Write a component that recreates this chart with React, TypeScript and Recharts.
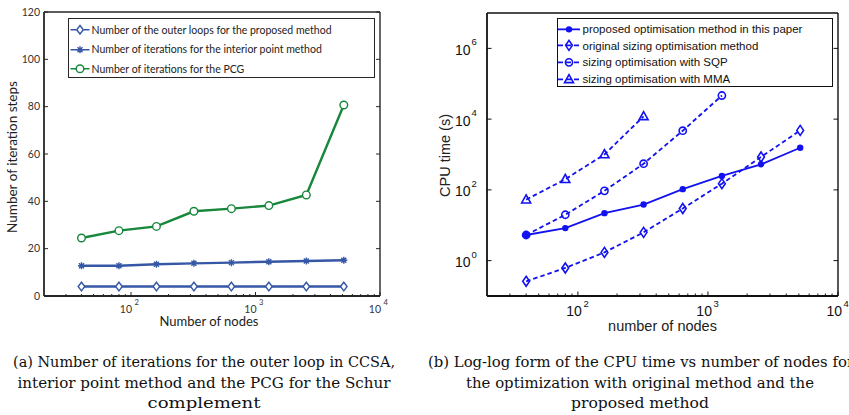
import React from 'react';
import { LineChart, Line, XAxis, YAxis, Legend } from 'recharts';

// node counts used by both panels
const nodes = [40, 80, 160, 320, 640, 1280, 2560, 5120];

// panel (a): iteration counts
const outerLoops = [4, 4, 4, 4, 4, 4, 4, 4];
const interiorPoint = [12.8, 12.8, 13.4, 13.8, 14.1, 14.5, 14.8, 15.1];
const pcgIters = [24.5, 27.6, 29.4, 35.8, 36.9, 38.2, 42.7, 80.7];

// panel (b): CPU time in seconds (SQP and MMA stop early)
const cpuProposed = [5.3, 8.3, 22, 38.5, 105, 248, 528, 1550];
const cpuOriginal = [0.26, 0.62, 1.71, 6.3, 29.8, 150, 850, 4800];
const cpuSqp = [5.3, 19.8, 94, 550, 4700, 46500];
const cpuMma = [53, 200, 1000, 12000];

// axis ticks
const xMajor = [100, 1000, 10000];
const xMinor = [30, 40, 50, 60, 70, 80, 90, 200, 300, 400, 500, 600, 700, 800, 900,
  2000, 3000, 4000, 5000, 6000, 7000, 8000, 9000];
const iterTicks = [0, 20, 40, 60, 80, 100, 120];
const cpuTicks = [1, 100, 10000, 1000000];

const iterData = nodes.map((n, i) => ({
  n, outer: outerLoops[i], interior: interiorPoint[i], pcg: pcgIters[i],
}));
const cpuData = nodes.map((n, i) => ({
  n, proposed: cpuProposed[i], original: cpuOriginal[i], sqp: cpuSqp[i], mma: cpuMma[i],
}));

const FONT_A = 'Lato, "Open Sans", sans-serif';
const FONT_B = '"Liberation Sans", Arial, sans-serif';
const FONT_CAP = '"DejaVu Serif", serif';
const BLUE_A = '#3557a6';
const GREEN_A = '#17873b';
const BLUE_B = '#1212f0';
const AXIS_A = '#262626';
const AXIS_B = '#111';

type MarkerFn = (cx: number, cy: number) => React.ReactNode;

const diamondA: MarkerFn = (cx, cy) => (
  <path d={`M${cx} ${cy - 4.3}L${cx + 3.3} ${cy}L${cx} ${cy + 4.3}L${cx - 3.3} ${cy}Z`}
    fill="#fff" stroke={BLUE_A} strokeWidth={1.4} />
);
const starA: MarkerFn = (cx, cy) => (
  <path d={`M${cx - 3.5} ${cy}H${cx + 3.5}M${cx} ${cy - 3.5}V${cy + 3.5}M${cx - 2.5} ${cy - 2.5}L${cx + 2.5} ${cy + 2.5}M${cx - 2.5} ${cy + 2.5}L${cx + 2.5} ${cy - 2.5}`}
    fill="none" stroke={BLUE_A} strokeWidth={1.4} />
);
const circleA: MarkerFn = (cx, cy) => (
  <circle cx={cx} cy={cy} r={3.8} fill="#fff" stroke={GREEN_A} strokeWidth={1.4} />
);

const dotB: MarkerFn = (cx, cy) => <circle cx={cx} cy={cy} r={3.2} fill={BLUE_B} />;
const diamondB: MarkerFn = (cx, cy) => (
  <path d={`M${cx} ${cy - 5}L${cx + 3.4} ${cy}L${cx} ${cy + 5}L${cx - 3.4} ${cy}Z`}
    fill="none" stroke={BLUE_B} strokeWidth={1.6} />
);
const circleB: MarkerFn = (cx, cy) => (
  <circle cx={cx} cy={cy} r={3.6} fill="none" stroke={BLUE_B} strokeWidth={1.6} />
);
const triangleB: MarkerFn = (cx, cy) => (
  <path d={`M${cx} ${cy - 4.8}L${cx + 4.5} ${cy + 3.3}L${cx - 4.5} ${cy + 3.3}Z`}
    fill="none" stroke={BLUE_B} strokeWidth={1.6} />
);

// wraps a marker so it can be used as a Line dot
const asDot = (m: MarkerFn) => (p: any) => (
  <g key={`m-${p.index}`}>{Number.isFinite(p.cx) && Number.isFinite(p.cy) ? m(p.cx, p.cy) : null}</g>
);

const legendA = [
  { label: 'Number of the outer loops for the proposed method', color: BLUE_A, marker: diamondA },
  { label: 'Number of iterations for the interior point method', color: BLUE_A, marker: starA },
  { label: 'Number of iterations for the PCG', color: GREEN_A, marker: circleA },
];
const legendB = [
  { label: 'proposed optimisation method in this paper', dashed: false, marker: dotB },
  { label: 'original sizing optimisation method', dashed: true, marker: diamondB },
  { label: 'sizing optimisation with SQP', dashed: true, marker: circleB },
  { label: 'sizing optimisation with MMA', dashed: true, marker: triangleB },
];

function LegendBoxA() {
  return (
    <div style={{ boxSizing: 'border-box', width: 307, height: 60, border: `1.6px solid ${AXIS_A}`, background: '#fff', paddingTop: 1 }}>
      {legendA.map((it) => (
        <div key={it.label} style={{ display: 'flex', alignItems: 'center', height: 19.5 }}>
          <svg width={22.5} height={19.5} style={{ flex: 'none' }}>
            <line x1={1.5} x2={20.5} y1={9.75} y2={9.75} stroke={it.color} strokeWidth={1.5} />
            {it.marker(11, 9.75)}
          </svg>
          <span style={{ fontFamily: FONT_A, fontSize: 10.5, color: '#222', whiteSpace: 'nowrap' }}>{it.label}</span>
        </div>
      ))}
    </div>
  );
}

function LegendBoxB() {
  return (
    <div style={{ boxSizing: 'border-box', width: 276, height: 69, border: `1.6px solid ${AXIS_B}`, background: '#fff', paddingTop: 1.5 }}>
      {legendB.map((it) => (
        <div key={it.label} style={{ display: 'flex', alignItems: 'center', height: 16.7 }}>
          <svg width={24.5} height={16.7} style={{ flex: 'none' }}>
            <line x1={0} x2={22} y1={8.35} y2={8.35} stroke={BLUE_B} strokeWidth={1.8}
              strokeDasharray={it.dashed ? '5 3' : undefined} />
            {it.marker(11, 8.35)}
          </svg>
          <span style={{ fontFamily: FONT_B, fontSize: 11.5, color: '#111', whiteSpace: 'nowrap' }}>{it.label}</span>
        </div>
      ))}
    </div>
  );
}

const expOf = (v: number) => Math.round(Math.log10(v));
const isMajor = (v: number) => xMajor.includes(v);

// ---- panel (a) ticks ----
function BottomTickA(p: any) {
  const v = p.payload.value;
  const big = isMajor(v);
  return (
    <g>
      <line x1={p.x} x2={p.x} y1={p.y} y2={p.y - (big ? 4 : 2)} stroke={AXIS_A} strokeWidth={1} />
      {big && <text x={p.x + 1} y={p.y + 16.5} textAnchor="end" fontFamily={FONT_A} fontSize={10.5} fill="#333">10</text>}
      {big && <text x={p.x + 3.5} y={p.y + 9} fontFamily={FONT_A} fontSize={7.5} fill="#333">{expOf(v)}</text>}
    </g>
  );
}
function TopTickA(p: any) {
  const big = isMajor(p.payload.value);
  return <line x1={p.x} x2={p.x} y1={p.y} y2={p.y + (big ? 4 : 2)} stroke={AXIS_A} strokeWidth={1} />;
}
function LeftTickA(p: any) {
  return (
    <g>
      <line x1={p.x} x2={p.x + 4} y1={p.y} y2={p.y} stroke={AXIS_A} strokeWidth={1} />
      <text x={p.x - 4} y={p.y + 3.8} textAnchor="end" fontFamily={FONT_A} fontSize={10.5} fill="#333">{p.payload.value}</text>
    </g>
  );
}
function RightTickA(p: any) {
  return <line x1={p.x} x2={p.x - 4} y1={p.y} y2={p.y} stroke={AXIS_A} strokeWidth={1} />;
}

// ---- panel (b) ticks ----
function BottomTickB(p: any) {
  const v = p.payload.value;
  const big = isMajor(v);
  return (
    <g>
      <line x1={p.x} x2={p.x} y1={p.y} y2={p.y - (big ? 4.5 : 2.5)} stroke={AXIS_B} strokeWidth={1} />
      {big && <text x={p.x + 4} y={p.y + 20} textAnchor="end" fontFamily={FONT_B} fontSize={14} fill="#111">10</text>}
      {big && <text x={p.x + 5.5} y={p.y + 10.5} fontFamily={FONT_B} fontSize={9.5} fill="#111">{expOf(v)}</text>}
    </g>
  );
}
function TopTickB(p: any) {
  const big = isMajor(p.payload.value);
  return <line x1={p.x} x2={p.x} y1={p.y} y2={p.y + (big ? 4.5 : 2.5)} stroke={AXIS_B} strokeWidth={1} />;
}
function LeftTickB(p: any) {
  return (
    <g>
      <line x1={p.x} x2={p.x + 4.5} y1={p.y} y2={p.y} stroke={AXIS_B} strokeWidth={1} />
      <text x={p.x - 16.5} y={p.y + 6.5} textAnchor="end" fontFamily={FONT_B} fontSize={14} fill="#111">10</text>
      <text x={p.x - 15.5} y={p.y - 3} fontFamily={FONT_B} fontSize={9.5} fill="#111">{expOf(p.payload.value)}</text>
    </g>
  );
}
function RightTickB(p: any) {
  return <line x1={p.x} x2={p.x - 4.5} y1={p.y} y2={p.y} stroke={AXIS_B} strokeWidth={1} />;
}

// axis titles
const xTitle = (text: string, font: string, size: number, dy: number, dx = 0) => (p: any) => {
  const vb = p.viewBox;
  return (
    <text x={vb.x + vb.width / 2 + dx} y={vb.y + dy} textAnchor="middle" fontFamily={font} fontSize={size} fill="#222">{text}</text>
  );
};
const yTitle = (text: string, font: string, size: number, dx: number, dy = 0) => (p: any) => {
  const vb = p.viewBox;
  const cx = vb.x + vb.width - dx;
  const cy = vb.y + vb.height / 2 + dy;
  return (
    <text x={cx} y={cy} transform={`rotate(-90 ${cx} ${cy})`} textAnchor="middle" dominantBaseline="central"
      fontFamily={font} fontSize={size} fill="#222">{text}</text>
  );
};

const allX = [...xMinor, ...xMajor];

// axes are 1px thick so they still render; margins absorb that pixel
function IterationsChart() {
  return (
    <LineChart width={400} height={340} data={iterData} margin={{ top: 11, right: 19, bottom: 43, left: 43 }}>
      <XAxis xAxisId="b" dataKey="n" type="number" scale="log" domain={[20, 10000]} allowDataOverflow
        ticks={allX} interval={0} height={1} tickSize={0} tickMargin={0} tickLine={false}
        tick={BottomTickA} axisLine={{ stroke: AXIS_A, strokeWidth: 1.8 }}
        label={xTitle('Number of nodes', FONT_A, 13, 30, -3)} />
      <XAxis xAxisId="t" orientation="top" type="number" scale="log" domain={[20, 10000]} allowDataOverflow
        ticks={allX} interval={0} height={1} tickSize={0} tickMargin={0} tickLine={false}
        tick={TopTickA} axisLine={{ stroke: AXIS_A, strokeWidth: 1.4 }} />
      <YAxis yAxisId="l" type="number" domain={[0, 120]} allowDataOverflow ticks={iterTicks} interval={0}
        width={1} tickSize={0} tickMargin={0} tickLine={false} tick={LeftTickA}
        axisLine={{ stroke: AXIS_A, strokeWidth: 1.8 }}
        label={yTitle('Number of iteration steps', FONT_A, 13.5, 32, 3)} />
      <YAxis yAxisId="r" orientation="right" type="number" domain={[0, 120]} allowDataOverflow ticks={iterTicks}
        interval={0} width={1} tickSize={0} tickMargin={0} tickLine={false} tick={RightTickA}
        axisLine={{ stroke: AXIS_A, strokeWidth: 1.4 }} />
      <Line xAxisId="b" yAxisId="l" dataKey="outer" stroke={BLUE_A} strokeWidth={2.4}
        dot={asDot(diamondA)} activeDot={false} isAnimationActive={false} />
      <Line xAxisId="b" yAxisId="l" dataKey="interior" stroke={BLUE_A} strokeWidth={2.4}
        dot={asDot(starA)} activeDot={false} isAnimationActive={false} />
      <Line xAxisId="b" yAxisId="l" dataKey="pcg" stroke={GREEN_A} strokeWidth={2.4}
        dot={asDot(circleA)} activeDot={false} isAnimationActive={false} />
      <Legend layout="vertical" align="center" verticalAlign="middle" content={() => <LegendBoxA />}
        wrapperStyle={{ left: 68, top: 18, width: 307, height: 60 }} />
    </LineChart>
  );
}

function CpuTimeChart() {
  return (
    <LineChart width={429} height={340} data={cpuData} margin={{ top: 12, right: 10, bottom: 43, left: 66 }}>
      <XAxis xAxisId="b" dataKey="n" type="number" scale="log" domain={[20, 10000]} allowDataOverflow
        ticks={allX} interval={0} height={1} tickSize={0} tickMargin={0} tickLine={false}
        tick={BottomTickB} axisLine={{ stroke: AXIS_B, strokeWidth: 1.8 }}
        label={xTitle('number of nodes', FONT_B, 14.5, 35)} />
      <XAxis xAxisId="t" orientation="top" type="number" scale="log" domain={[20, 10000]} allowDataOverflow
        ticks={allX} interval={0} height={1} tickSize={0} tickMargin={0} tickLine={false}
        tick={TopTickB} axisLine={{ stroke: AXIS_B, strokeWidth: 1.4 }} />
      <YAxis yAxisId="l" type="number" scale="log" domain={[0.1, 1e7]} allowDataOverflow ticks={cpuTicks}
        interval={0} width={1} tickSize={0} tickMargin={0} tickLine={false} tick={LeftTickB}
        axisLine={{ stroke: AXIS_B, strokeWidth: 1.8 }}
        label={yTitle('CPU time (s)', FONT_B, 14.5, 42, 1)} />
      <YAxis yAxisId="r" orientation="right" type="number" scale="log" domain={[0.1, 1e7]} allowDataOverflow
        ticks={cpuTicks} interval={0} width={1} tickSize={0} tickMargin={0} tickLine={false} tick={RightTickB}
        axisLine={{ stroke: AXIS_B, strokeWidth: 1.4 }} />
      <Line xAxisId="b" yAxisId="l" dataKey="proposed" stroke={BLUE_B} strokeWidth={1.8}
        dot={asDot(dotB)} activeDot={false} isAnimationActive={false} />
      <Line xAxisId="b" yAxisId="l" dataKey="original" stroke={BLUE_B} strokeWidth={1.8} strokeDasharray="4.5 3"
        dot={asDot(diamondB)} activeDot={false} isAnimationActive={false} />
      <Line xAxisId="b" yAxisId="l" dataKey="sqp" stroke={BLUE_B} strokeWidth={1.8} strokeDasharray="4.5 3"
        dot={asDot(circleB)} activeDot={false} isAnimationActive={false} />
      <Line xAxisId="b" yAxisId="l" dataKey="mma" stroke={BLUE_B} strokeWidth={1.8} strokeDasharray="4.5 3"
        dot={asDot(triangleB)} activeDot={false} isAnimationActive={false} />
      <Legend layout="vertical" align="center" verticalAlign="middle" content={() => <LegendBoxB />}
        wrapperStyle={{ left: 137, top: 18, width: 276, height: 69 }} />
    </LineChart>
  );
}

const captionA = [
  '(a) Number of iterations for the outer loop in CCSA,',
  'interior point method and the PCG for the Schur',
  'complement',
];
const captionB = [
  '(b) Log-log form of the CPU time vs number of nodes for',
  'the optimization with original method and the',
  'proposed method',
];
const captionWidthsA = [382, 373, 113];
const captionWidthsB = [426, 348, 138];

export default function App() {
  const baselines = [37, 58, 78];
  return (
    <div style={{ position: 'absolute', left: 0, top: 0, width: 849, height: 415, overflow: 'hidden', background: '#fff' }}>
      <div style={{ position: 'absolute', left: 0, top: 0 }}>
        <IterationsChart />
      </div>
      <div style={{ position: 'absolute', left: 420, top: 0 }}>
        <CpuTimeChart />
      </div>
      <svg width={849} height={85} style={{ position: 'absolute', left: 0, top: 330 }}>
        {captionA.map((t, i) => (
          <text key={t} x={204} y={baselines[i]} textAnchor="middle" fontFamily={FONT_CAP} fontSize={14.5}
            textLength={captionWidthsA[i]} lengthAdjust="spacingAndGlyphs" fill="#111">{t}</text>
        ))}
        {captionB.map((t, i) => (
          <text key={t} x={i === 0 ? 428 : 640} y={baselines[i]} textAnchor={i === 0 ? 'start' : 'middle'}
            fontFamily={FONT_CAP} fontSize={14.5} textLength={captionWidthsB[i]} lengthAdjust="spacingAndGlyphs"
            fill="#111">{t}</text>
        ))}
      </svg>
    </div>
  );
}
